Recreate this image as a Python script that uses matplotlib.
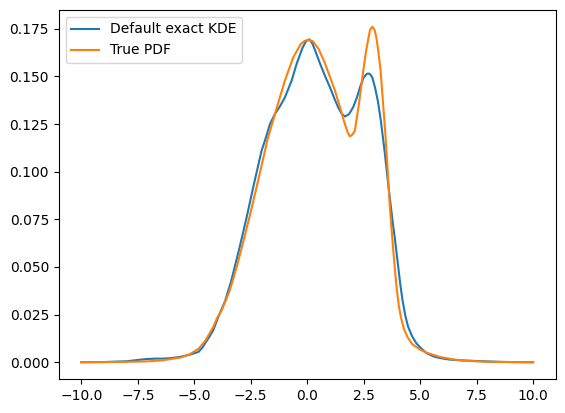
import matplotlib
matplotlib.use("Agg")
import matplotlib.pyplot as plt

# Default exact KDE (blue)
kde_x = [-10, -9, -8, -7.85, -7.5, -7.11, -6.7, -6.37, -6.0, -5.63, -5.19, -4.82,
         -4.65, -4.53, -4.35, -4.16, -3.94, -3.64, -3.38, -3.0, -2.68, -2.35, -2.02,
         -1.87, -1.65, -1.43, -1.2, -0.99, -0.69, -0.47, -0.20, -0.05, 0.09, 0.22,
         0.34, 0.56, 0.78, 1.0, 1.2, 1.37, 1.52, 1.67, 1.85, 2.04, 2.2, 2.35, 2.5,
         2.62, 2.70, 2.78, 2.88, 3.0, 3.13, 3.26, 3.44, 3.58, 3.69, 3.79, 3.88, 3.96,
         4.03, 4.12, 4.22, 4.35, 4.47, 4.65, 4.84, 5.05, 5.28, 5.6, 5.87, 6.3, 6.8,
         7.2, 7.8, 8.5, 9, 10]
kde_y = [0.0, 0.0001, 0.0005, 0.0007, 0.0012, 0.0017, 0.0019, 0.0019, 0.0022,
         0.0028, 0.004, 0.0054, 0.0075, 0.0098, 0.013, 0.0168, 0.0237, 0.032, 0.042,
         0.060, 0.0762, 0.094, 0.1111, 0.1164, 0.125, 0.1303, 0.1345, 0.139, 0.1478,
         0.1566, 0.1653, 0.1685, 0.1695, 0.1675, 0.164, 0.157, 0.1505, 0.1445, 0.1385,
         0.1338, 0.1305, 0.129, 0.1302, 0.134, 0.139, 0.1448, 0.1495, 0.1512, 0.1516,
         0.1512, 0.1495, 0.1443, 0.137, 0.1268, 0.1094, 0.094, 0.083, 0.073, 0.065,
         0.057, 0.050, 0.041, 0.0325, 0.024, 0.0185, 0.0135, 0.0098, 0.0072, 0.0048,
         0.003, 0.0022, 0.0014, 0.001, 0.0008, 0.0005, 0.0002, 0.0001, 0.0]

# True PDF (orange)
pdf_x = [-10, -9, -8, -7, -6.4, -5.6, -5.2, -4.8, -4.5, -4.16, -3.98, -3.8, -3.64,
         -3.45, -3.27, -3.1, -2.9, -2.54, -2.2, -1.87, -1.77, -1.43, -0.99, -0.62,
         -0.29, -0.12, 0.04, 0.25, 0.5, 0.75, 1.0, 1.23, 1.45, 1.62, 1.78, 1.89, 2.0,
         2.11, 2.29, 2.48, 2.60, 2.70, 2.78, 2.88, 2.98, 3.06, 3.15, 3.25, 3.36, 3.47,
         3.56, 3.63, 3.70, 3.78, 3.88, 3.96, 4.05, 4.15, 4.28, 4.45, 4.65, 5.0, 5.28,
         5.87, 6.5, 7, 8, 9, 10]
pdf_y = [0.0, 0.0001, 0.0002, 0.0005, 0.001, 0.0025, 0.0042, 0.0072, 0.0115, 0.0185,
         0.0235, 0.027, 0.0315, 0.037, 0.044, 0.051, 0.060, 0.077, 0.094, 0.111,
         0.1164, 0.1303, 0.1478, 0.160, 0.167, 0.1686, 0.1693, 0.1685, 0.1645, 0.158,
         0.150, 0.1425, 0.134, 0.1268, 0.1210, 0.1185, 0.1195, 0.1216, 0.1356, 0.153,
         0.163, 0.1695, 0.1745, 0.1761, 0.1745, 0.1705, 0.163, 0.153, 0.1356, 0.118,
         0.101, 0.087, 0.075, 0.063, 0.049, 0.039, 0.030, 0.0235, 0.0175, 0.013,
         0.0095, 0.0066, 0.005, 0.0028, 0.0014, 0.0008, 0.0002, 0.0001, 0.0]

fig = plt.figure(figsize=(5.65, 4.13), dpi=100)
ax = fig.add_axes([0.104, 0.0823, 0.8795, 0.8935])
ax.plot(kde_x, kde_y, label="Default exact KDE")
ax.plot(pdf_x, pdf_y, label="True PDF")
ax.legend(loc="upper left")
fig.savefig("out.png", dpi=100)
